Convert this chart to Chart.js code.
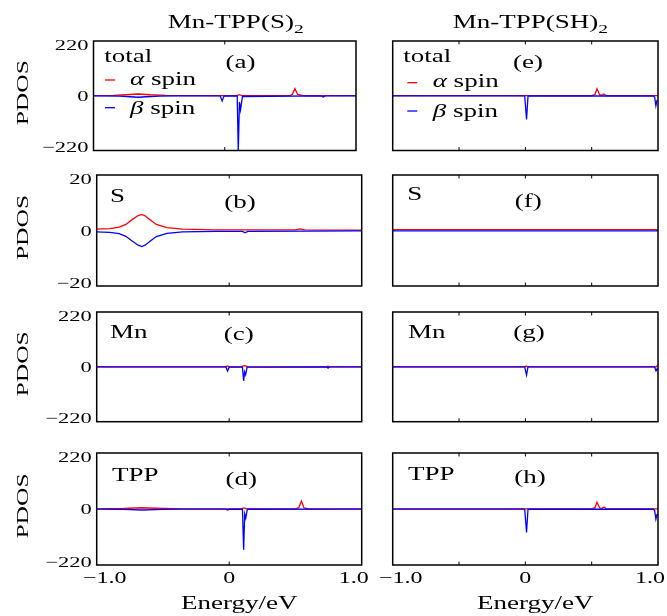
<!DOCTYPE html>
<html>
<head>
<meta charset="UTF-8">
<title>Mn-TPP PDOS</title>
<script src="https://cdn.jsdelivr.net/npm/chart.js@4.4.1/dist/chart.umd.min.js"></script>
<style>
  body { margin: 0; background: #fff; }
  #wrap { position: relative; width: 667px; height: 616px; overflow: hidden; background: #fff; }
  #wrap canvas { position: absolute; }
</style>
</head>
<body>
<div id="wrap"></div>
<script>
// ---- data: [energy (eV), PDOS] ----
// Mn-TPP(S)2
const s2TotalAlpha = [[-1,0.5],[-0.85,1.5],[-0.75,4],[-0.66,7],[-0.57,4],[-0.45,1.5],[-0.3,0.5],[0.09,0.5],[0.11,4],[0.13,0.5],[0.5,0.5],[0.515,6],[0.535,29],[0.555,5],[0.6,0.5],[1,0.3]];
const s2TotalBeta  = [[-1,-0.5],[-0.8,-1.5],[-0.72,-4],[-0.66,-6],[-0.6,-4],[-0.5,-1.5],[-0.35,-0.5],[-0.035,-0.5],[-0.02,-21],[-0.005,-0.5],[0.095,-1],[0.103,-225],[0.112,-25],[0.12,-57],[0.135,-3],[0.735,-0.5],[0.75,-5],[0.765,-0.5],[1,-0.5]];
const s2SAlpha = [[-1,0.5],[-0.9,0.7],[-0.83,1.2],[-0.78,2.2],[-0.73,4.0],[-0.69,5.3],[-0.66,5.8],[-0.635,5.3],[-0.6,4.0],[-0.55,2.2],[-0.47,1.0],[-0.35,0.5],[-0.1,0.25],[0.5,0.2],[0.535,0.6],[0.57,0.2],[1,0.1]];
const s2SBeta  = [[-1,-0.5],[-0.9,-0.7],[-0.83,-1.1],[-0.78,-2.1],[-0.73,-3.9],[-0.69,-5.2],[-0.66,-5.8],[-0.635,-5.3],[-0.6,-4.0],[-0.55,-2.2],[-0.47,-1.0],[-0.35,-0.5],[-0.1,-0.3],[0.1,-0.3],[0.12,-0.8],[0.14,-0.3],[1,-0.1]];
const s2MnAlpha = [[-1,0.3],[-0.03,0.3],[-0.012,4],[0.005,0.3],[0.09,0.3],[0.11,5],[0.125,4],[0.14,0.3],[0.73,0.3],[0.746,3],[0.76,0.3],[1,0.3]];
const s2MnBeta  = [[-1,-0.3],[-0.025,-0.5],[-0.012,-17],[0,-0.5],[0.1,-1],[0.109,-56],[0.116,-20],[0.124,-32],[0.135,-1],[0.735,-0.5],[0.746,-5],[0.755,-0.5],[1,-0.3]];
const s2TppAlpha = [[-1,0.5],[-0.8,2],[-0.66,5],[-0.5,2],[-0.35,0.5],[0.09,0.5],[0.11,4],[0.13,0.5],[0.5,0.5],[0.525,5],[0.545,31],[0.565,4],[0.6,0.5],[1,0.3]];
const s2TppBeta  = [[-1,-0.5],[-0.8,-1.5],[-0.66,-4],[-0.5,-1.5],[-0.35,-0.5],[-0.025,-0.5],[-0.012,-4],[0,-0.5],[0.1,-1],[0.109,-160],[0.117,-20],[0.125,-36],[0.137,-1],[1,-0.3]];
// Mn-TPP(SH)2
const sh2TotalAlpha = [[-1,0.3],[0.5,0.3],[0.525,5],[0.54,28],[0.56,4],[0.575,2],[0.59,7],[0.61,0.5],[1,0.3]];
const sh2TotalBeta  = [[-1,-0.3],[-0.005,-0.5],[0.009,-95],[0.02,-1],[0.965,-0.5],[0.975,-6],[0.984,-40],[0.992,-20],[1,-22]];
const sh2SAlpha = [[-1,0.3],[0,0.3],[0.55,0.35],[1,0.3]];
const sh2SBeta  = [[-1,-0.15],[0,-0.15],[0.55,-0.15],[1,-0.15]];
const sh2MnAlpha = [[-1,0.3],[-0.005,0.3],[0.005,3],[0.015,0.3],[0.985,0.3],[0.995,4],[1,3]];
const sh2MnBeta  = [[-1,-0.3],[-0.005,-0.5],[0.009,-33],[0.02,-0.5],[0.975,-0.5],[0.985,-16],[0.993,-8],[1,-10]];
const sh2TppAlpha = [[-1,0.3],[0.5,0.3],[0.525,5],[0.54,27],[0.56,4],[0.575,2],[0.594,8],[0.61,0.5],[1,0.3]];
const sh2TppBeta  = [[-1,-0.3],[-0.005,-0.5],[0.009,-92],[0.02,-1],[0.965,-0.5],[0.975,-6],[0.984,-40],[0.992,-22],[1,-24]];

// ticks
const energyLabelValues = [-1, 0, 1];
const energyLabels = ['\u22121.0', '0', '1.0'];
const leftInnerTicks = [0];
const rightInnerTicks = [-0.5, 0, 0.5];
const bigTicks = [220, 0, -220];
const sTicks = [20, 0, -20];
const titles = ['Mn-TPP(S)', 'Mn-TPP(SH)'];

// ---- layout ----
const colBox = [{x: 0, w: 390}, {x: 370, w: 297}];
const rowBox = [{y: 0, h: 165}, {y: 160, h: 140}, {y: 298, h: 140}, {y: 436, h: 180}];
const SX = 1.5;
const FONT = '"Liberation Serif", "DejaVu Serif", serif';

const panels = [
  {col: 0, row: 0, alpha: s2TotalAlpha, beta: s2TotalBeta, ticks: bigTicks, name: 'total', tag: '(a)', plot: [93.5, 41, 356, 150.5], nameAt: [10.8, 21], tagAt: [147, 27],
   legend: {x1: 11.5, x2: 21.5, tx: 36.5, la: 39, ta: 44, lb: 66.7, tb: 73.3}},
  {col: 0, row: 1, alpha: s2SAlpha, beta: s2SBeta, ticks: sTicks, name: 'S', tag: '(b)', plot: [96.7, 175, 361.7, 286], nameAt: [13.3, 26.7], tagAt: [143.3, 33]},
  {col: 0, row: 2, alpha: s2MnAlpha, beta: s2MnBeta, ticks: bigTicks, name: 'Mn', tag: '(c)', plot: [96.7, 312, 361.7, 421.7], nameAt: [13.3, 26.3], tagAt: [142, 28]},
  {col: 0, row: 3, alpha: s2TppAlpha, beta: s2TppBeta, ticks: bigTicks, name: 'TPP', tag: '(d)', plot: [96.7, 453, 361.7, 565], nameAt: [15.3, 27.7], tagAt: [144.5, 32]},
  {col: 1, row: 0, alpha: sh2TotalAlpha, beta: sh2TotalBeta, ticks: bigTicks, name: 'total', tag: '(e)', plot: [392.7, 41, 658, 150.5], nameAt: [10.6, 20.7], tagAt: [135.3, 27],
   legend: {x1: 14.6, x2: 24.6, tx: 40, la: 41.7, ta: 46.3, lb: 70, tb: 75.7}},
  {col: 1, row: 1, alpha: sh2SAlpha, beta: sh2SBeta, ticks: sTicks, name: 'S', tag: '(f)', plot: [392.7, 175, 658, 286], nameAt: [14.6, 25], tagAt: [135.6, 31.7]},
  {col: 1, row: 2, alpha: sh2MnAlpha, beta: sh2MnBeta, ticks: bigTicks, name: 'Mn', tag: '(g)', plot: [392.7, 312, 658, 421.7], nameAt: [15.3, 26.3], tagAt: [136.3, 26]},
  {col: 1, row: 3, alpha: sh2TppAlpha, beta: sh2TppBeta, ticks: bigTicks, name: 'TPP', tag: '(h)', plot: [392.7, 453, 658, 565], nameAt: [15.3, 27], tagAt: [137.3, 30]}
];

function tw(ctx, s, size, italic) {
  ctx.font = (italic ? 'italic ' : '') + size + 'px ' + FONT;
  return ctx.measureText(s).width * SX;
}
function put(ctx, s, x, y, size, align, italic) {
  const w = tw(ctx, s, size, italic);
  const x0 = align === 'center' ? x - w / 2 : align === 'right' ? x - w : x;
  ctx.save();
  ctx.translate(x0, y);
  ctx.scale(SX, 1);
  ctx.textAlign = 'left';
  ctx.textBaseline = 'alphabetic';
  ctx.fillStyle = '#000';
  ctx.fillText(s, 0, 0);
  ctx.restore();
  return w;
}
function seg(ctx, x1, y1, x2, y2) {
  ctx.beginPath(); ctx.moveTo(x1, y1); ctx.lineTo(x2, y2); ctx.stroke();
}

function makeFrame(p) {
  return {
    id: 'frame',
    afterDatasetsDraw(chart) {
      const {ctx, chartArea: ca, scales: {x, y}} = chart;
      const off = colBox[p.col].x, top = rowBox[p.row].y;
      ctx.save();
      ctx.strokeStyle = '#000';
      ctx.lineWidth = 1;
      (p.col === 0 ? leftInnerTicks : rightInnerTicks).forEach(v => {
        const px = x.getPixelForValue(v);
        seg(ctx, px, ca.top, px, ca.top + 3.5);
        seg(ctx, px, ca.bottom, px, ca.bottom - 3.5);
      });
      ctx.lineWidth = 1.5;
      ctx.strokeRect(ca.left, ca.top, ca.right - ca.left, ca.bottom - ca.top);

      // panel labels
      put(ctx, p.name, ca.left + p.nameAt[0], ca.top + p.nameAt[1], 18, 'left');
      put(ctx, p.tag, ca.left + p.tagAt[0], ca.top + p.tagAt[1], 18, 'center');
      if (p.legend) {
        const L = p.legend;
        ctx.lineWidth = 1.3;
        ctx.strokeStyle = '#ff0000';
        seg(ctx, ca.left + L.x1, ca.top + L.la, ca.left + L.x2, ca.top + L.la);
        ctx.strokeStyle = '#0000ff';
        seg(ctx, ca.left + L.x1, ca.top + L.lb, ca.left + L.x2, ca.top + L.lb);
        let w = put(ctx, '\u03b1', ca.left + L.tx, ca.top + L.ta, 18, 'left', true);
        put(ctx, ' spin', ca.left + L.tx + w, ca.top + L.ta, 18, 'left');
        w = put(ctx, '\u03b2', ca.left + L.tx, ca.top + L.tb, 18, 'left', true);
        put(ctx, ' spin', ca.left + L.tx + w, ca.top + L.tb, 18, 'left');
      }

      // y axis labels (left column only)
      if (p.col === 0) {
        p.ticks.forEach((v, i) => {
          const py = y.getPixelForValue(v) + 5 + (i === 0 ? 3.5 : i === 2 ? -3.5 : 0);
          const s = v < 0 ? '\u2212' + Math.abs(v) : String(v);
          put(ctx, s, ca.left - 5, py, 15, 'right');
        });
        ctx.save();
        ctx.translate(28.3 - off, (ca.top + ca.bottom) / 2 - 3);
        ctx.rotate(-Math.PI / 2);
        put(ctx, 'PDOS', 0, 0, 17, 'center');
        ctx.restore();
      }

      // column title
      if (p.row === 0) {
        const t = titles[p.col];
        const w1 = tw(ctx, t, 18), w2 = tw(ctx, '2', 13);
        const cx = (ca.left + ca.right) / 2 + (p.col === 0 ? 11 : 5);
        put(ctx, t, cx - (w1 + w2) / 2, 28.3 - top, 18, 'left');
        put(ctx, '2', cx - (w1 + w2) / 2 + w1, 32.5 - top, 13, 'left');
      }

      // energy axis
      if (p.row === 3) {
        energyLabelValues.forEach((v, i) => {
          const shift = v < 0 ? 8 : v > 0 ? -8 : 0;
          put(ctx, energyLabels[i], x.getPixelForValue(v) + shift, ca.bottom + 18.3, 16, 'center');
        });
        put(ctx, 'Energy/eV', (ca.left + ca.right) / 2 + 10, ca.bottom + 44.3, 18, 'center');
      }
      ctx.restore();
    }
  };
}

const wrap = document.getElementById('wrap');
const toXY = arr => arr.map(d => ({x: d[0], y: d[1]}));

panels.forEach(p => {
  const box = colBox[p.col], rb = rowBox[p.row];
  const c = document.createElement('canvas');
  c.width = box.w; c.height = rb.h;
  c.style.left = box.x + 'px'; c.style.top = rb.y + 'px';
  c.style.width = box.w + 'px'; c.style.height = rb.h + 'px';
  wrap.appendChild(c);
  const [L, T, R, B] = p.plot;
  const yMax = p.ticks[0];
  new Chart(c, {
    type: 'line',
    data: {
      datasets: [
        {label: '\u03b2 spin', data: toXY(p.beta), borderColor: '#0000ff', order: 0},
        {label: '\u03b1 spin', data: toXY(p.alpha), borderColor: '#ff0000', order: 1}
      ]
    },
    options: {
      responsive: false,
      animation: false,
      devicePixelRatio: 1,
      layout: {padding: {left: L - box.x, top: T - rb.y, right: box.x + box.w - R, bottom: rb.y + rb.h - B}},
      scales: {
        x: {type: 'linear', min: -1, max: 1, display: false},
        y: {type: 'linear', min: -yMax, max: yMax, display: false}
      },
      elements: {point: {radius: 0}, line: {borderWidth: 1.3, tension: 0}},
      plugins: {legend: {display: false}, tooltip: {enabled: false}}
    },
    plugins: [makeFrame(p)]
  });
});
</script>
</body>
</html>
